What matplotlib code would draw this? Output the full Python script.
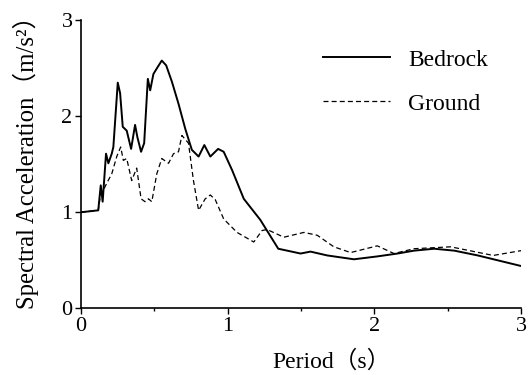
import matplotlib
matplotlib.use("Agg")
import matplotlib.pyplot as plt
from matplotlib.ticker import MultipleLocator

# periods (s) and spectral accelerations (m/s^2)
bedrock_t = [0.0, 0.118, 0.135, 0.148, 0.171, 0.187, 0.21, 0.221, 0.251, 0.267,
             0.285, 0.312, 0.342, 0.369, 0.385, 0.41, 0.431, 0.456, 0.472, 0.494,
             0.522, 0.551, 0.581, 0.62, 0.665, 0.711, 0.756, 0.802, 0.841, 0.882,
             0.935, 0.973, 1.03, 1.11, 1.223, 1.345, 1.497, 1.565, 1.679, 1.861,
             2.02, 2.158, 2.27, 2.408, 2.545, 2.705, 3.0]
bedrock_sa = [1.0, 1.02, 1.28, 1.11, 1.61, 1.51, 1.61, 1.68, 2.35, 2.24,
              1.89, 1.85, 1.66, 1.91, 1.78, 1.63, 1.72, 2.39, 2.27, 2.44,
              2.51, 2.58, 2.53, 2.36, 2.13, 1.87, 1.65, 1.58, 1.70, 1.58,
              1.66, 1.63, 1.44, 1.14, 0.92, 0.62, 0.57, 0.59, 0.55, 0.51,
              0.54, 0.57, 0.60, 0.62, 0.60, 0.55, 0.44]

ground_t = [0.0, 0.118, 0.135, 0.153, 0.175, 0.21, 0.244, 0.271, 0.289, 0.312,
            0.346, 0.38, 0.41, 0.437, 0.46, 0.483, 0.517, 0.551, 0.597, 0.631,
            0.665, 0.688, 0.733, 0.767, 0.802, 0.847, 0.882, 0.916, 0.973, 1.064,
            1.178, 1.235, 1.269, 1.383, 1.52, 1.611, 1.724, 1.838, 2.02, 2.134,
            2.27, 2.52, 2.81, 3.0]
ground_sa = [1.0, 1.02, 1.2, 1.23, 1.30, 1.40, 1.58, 1.68, 1.54, 1.56,
             1.33, 1.46, 1.14, 1.11, 1.14, 1.11, 1.40, 1.56, 1.51, 1.61,
             1.63, 1.80, 1.72, 1.33, 1.02, 1.14, 1.18, 1.13, 0.93, 0.79,
             0.69, 0.81, 0.82, 0.74, 0.79, 0.76, 0.64, 0.58, 0.65, 0.57,
             0.62, 0.64, 0.55, 0.60]

plt.rcParams['font.family'] = ['Liberation Serif', 'Noto Sans CJK SC']

fig = plt.figure(figsize=(5.29, 3.75), dpi=100)
ax = fig.add_axes([0.153, 0.178, 0.832, 0.768])

ax.plot(bedrock_t, bedrock_sa, color='black', lw=1.4, label='Bedrock')
ax.plot(ground_t, ground_sa, color='black', lw=0.9, ls=(0, (4, 2.5)), label='Ground')

ax.set_xlim(0, 3)
ax.set_ylim(0, 3)
ax.xaxis.set_major_locator(MultipleLocator(1))
ax.xaxis.set_minor_locator(MultipleLocator(0.5))
ax.yaxis.set_major_locator(MultipleLocator(1))
ax.tick_params(axis='both', which='major', labelsize=16, length=4, width=1, pad=2)
ax.tick_params(axis='x', which='minor', length=2.5, width=1)
for s in ['top', 'right']:
    ax.spines[s].set_visible(False)
for s in ['left', 'bottom']:
    ax.spines[s].set_linewidth(1.2)

ax.set_xlabel('Period（s）', fontsize=17)
ax.xaxis.set_label_coords(0.57, -0.145)
ax.set_ylabel('Spectral Acceleration（m/s²）', fontsize=17.8)
ax.yaxis.set_label_coords(-0.095, 0.527)

ax.legend(loc='upper left', bbox_to_anchor=(0.55, 0.9), frameon=False,
          borderaxespad=0, borderpad=0,
          fontsize=17, handlelength=2.85, handletextpad=0.76, labelspacing=0.95)

fig.savefig('out.png', dpi=100)
